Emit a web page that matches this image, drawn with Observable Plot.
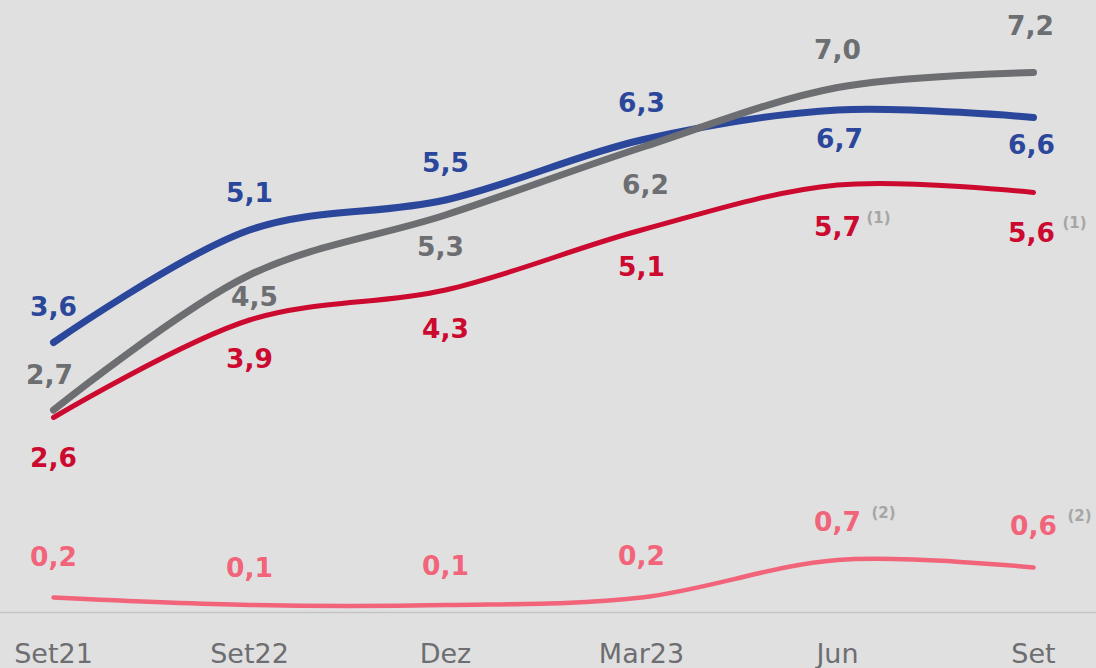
<!DOCTYPE html>
<html>
<head>
<meta charset="utf-8">
<script src="https://cdn.jsdelivr.net/npm/d3@7"></script>
<script src="https://cdn.jsdelivr.net/npm/@observablehq/plot@0.6"></script>
<style>
  html, body { margin: 0; padding: 0; background: #e0e0e0; }
  #chart svg { display: block; }
</style>
</head>
<body>
<div id="chart"></div>
<script>
// ---- data ----
const periods = ["Set21", "Set22", "Dez", "Mar23", "Jun", "Set"];
const blueValues = [3.6, 5.1, 5.5, 6.3, 6.7, 6.6];
const grayValues = [2.7, 4.5, 5.3, 6.2, 7.0, 7.2];
const redValues  = [2.6, 3.9, 4.3, 5.1, 5.7, 5.6];
const pinkValues = [0.2, 0.1, 0.1, 0.2, 0.7, 0.6];
const redNotes  = ["", "", "", "", "(1)", "(1)"];
const pinkNotes = ["", "", "", "", "(2)", "(2)"];

// ---- layout / style (not data) ----
const series = [
  {key: "pink", values: pinkValues, notes: pinkNotes, color: "#f2647a", width: 4.5,
   dy: [-40, -36, -38, -41, -37, -41], dx: [0, 0, 0, 0, 0, 0]},
  {key: "red", values: redValues, notes: redNotes, color: "#cc0a2f", width: 5,
   dy: [41, 40, 40, 38, 43, 41], dx: [0, 0, 0, 0, 0, -2]},
  {key: "blue", values: blueValues, notes: periods.map(() => ""), color: "#2b479b", width: 7,
   dy: [-35, -36, -36, -36, 30, 28], dx: [0, 0, 0, 0, 2, -2]},
  {key: "gray", values: grayValues, notes: periods.map(() => ""), color: "#6d6e71", width: 7,
   dy: [-34, 23, 33, 38, -37, -46], dx: [-4, 5, -5, 4, 0, -3]}
];

const fmt = v => v.toFixed(1).replace(".", ",");

const marks = [
  Plot.ruleY([0], {stroke: "#c4c4c4", strokeWidth: 1.5, insetLeft: -60, insetRight: -70})
];

for (const s of series) {
  const rows = periods.map((p, i) => ({period: p, value: s.values[i], note: s.notes[i], dy: s.dy[i], dx: s.dx[i]}));
  marks.push(Plot.line(rows, {
    x: "period", y: "value", stroke: s.color, strokeWidth: s.width,
    curve: "catmull-rom", strokeLinecap: "round", strokeLinejoin: "round"
  }));
  rows.forEach(r => {
    marks.push(Plot.text([r], {
      x: "period", y: "value", text: d => fmt(d.value),
      dy: r.dy, dx: r.dx, fill: s.color, fontSize: 26.5, fontWeight: "bold",
      fontFamily: "DejaVu Sans"
    }));
    if (r.note) {
      marks.push(Plot.text([r], {
        x: "period", y: "value", text: "note",
        dy: r.dy - 10, dx: s.key === "pink" ? 34 : 29, textAnchor: "start",
        fill: "#a6a6a6", fontSize: 15, fontWeight: "bold", fontFamily: "DejaVu Sans"
      }));
    }
  });
}

const chart = Plot.plot({
  width: 1096,
  height: 668,
  marginLeft: 51,
  marginRight: 61,
  marginTop: 12,
  marginBottom: 56,
  style: {background: "#e0e0e0", fontFamily: "DejaVu Sans", overflow: "visible"},
  x: {type: "point", domain: periods, padding: 0, label: null},
  y: {domain: [0, 8], axis: null},
  marks: [
    ...marks,
    Plot.axisX({tickSize: 0, tickPadding: 31, fontSize: 27, fill: "#6d6e71", label: null, fontFamily: "DejaVu Sans"})
  ]
});
document.getElementById("chart").appendChild(chart);
</script>
</body>
</html>
